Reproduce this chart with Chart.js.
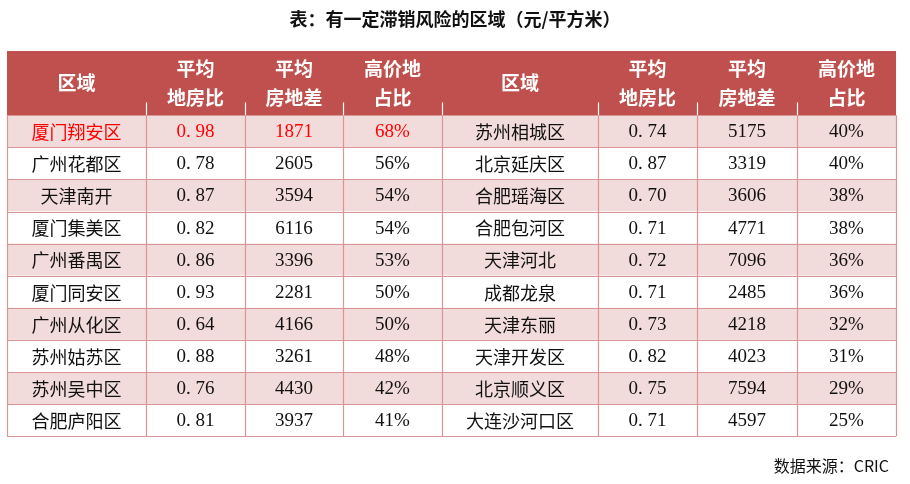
<!DOCTYPE html>
<html><head><meta charset="utf-8">
<script src="https://cdn.jsdelivr.net/npm/chart.js@4/dist/chart.umd.min.js"></script>
<style>body{margin:0;background:#fff}canvas{display:block}</style></head>
<body><canvas id="c" width="910" height="484"></canvas>
<script>
const headers = ["区域","平均\n地房比","平均\n房地差","高价地\n占比","区域","平均\n地房比","平均\n房地差","高价地\n占比"];
const leftRegions = ["厦门翔安区","广州花都区","天津南开","厦门集美区","广州番禺区","厦门同安区","广州从化区","苏州姑苏区","苏州吴中区","合肥庐阳区"];
const leftRatio = ["0.98","0.78","0.87","0.82","0.86","0.93","0.64","0.88","0.76","0.81"];
const leftDiff = [1871,2605,3594,6116,3396,2281,4166,3261,4430,3937];
const leftHigh = ["68%","56%","54%","54%","53%","50%","50%","48%","42%","41%"];
const rightRegions = ["苏州相城区","北京延庆区","合肥瑶海区","合肥包河区","天津河北","成都龙泉","天津东丽","天津开发区","北京顺义区","大连沙河口区"];
const rightRatio = ["0.74","0.87","0.70","0.71","0.72","0.71","0.73","0.82","0.75","0.71"];
const rightDiff = [5175,3319,3606,4771,7096,2485,4218,4023,7594,4597];
const rightHigh = ["40%","40%","38%","38%","36%","36%","32%","31%","29%","25%"];
const colEdges = [0,139,238,336,435,591,690,790,889];

const rows = leftRegions.map((r,i)=>[r,leftRatio[i],String(leftDiff[i]),leftHigh[i],rightRegions[i],rightRatio[i],String(rightDiff[i]),rightHigh[i]]);
const RH = 32.1;

const tablePlugin = {
  id:'table',
  afterDraw(chart){
    const ctx=chart.ctx, xs=chart.scales.x, ys=chart.scales.y;
    const X=v=>xs.getPixelForValue(v), Y=v=>ys.getPixelForValue(v);
    ctx.save();
    ctx.fillStyle='#c0504d';
    ctx.fillRect(X(0),Y(0),X(889)-X(0),Y(2)-Y(0));
    rows.forEach((r,i)=>{
      const y0=Y(2+i), y1=Y(3+i);
      ctx.fillStyle = i%2===0 ? '#f2dcdb' : '#ffffff';
      ctx.fillRect(X(0),y0,X(889)-X(0),y1-y0);
    });
    ctx.strokeStyle='#d99594'; ctx.lineWidth=1.2;
    for(let i=0;i<=10;i++){const y=Math.round(Y(2+i))+0.5;ctx.beginPath();ctx.moveTo(X(0),y);ctx.lineTo(X(889),y);ctx.stroke();}
    colEdges.forEach(e=>{const x=Math.round(X(e))+0.5;ctx.beginPath();ctx.moveTo(x,Y(2));ctx.lineTo(x,Y(12));ctx.stroke();});
    ctx.strokeStyle='#ffffff';
    colEdges.slice(1,-1).forEach(e=>{const x=Math.round(X(e))+0.5;ctx.beginPath();ctx.moveTo(x,Y(1.6));ctx.lineTo(x,Y(2));ctx.stroke();});
    ctx.textAlign='center'; ctx.textBaseline='middle'; ctx.fillStyle='#ffffff';
    ctx.font='bold 19px "Noto Sans CJK SC"';
    headers.forEach((h,j)=>{
      const cx=(X(colEdges[j])+X(colEdges[j+1]))/2;
      const lines=h.split('\n');
      if(lines.length===1) ctx.fillText(lines[0],cx,Y(1));
      else {ctx.fillText(lines[0],cx,Y(0.55));ctx.fillText(lines[1],cx,Y(1.45));}
    });
    rows.forEach((r,i)=>{
      const cy=(Y(2+i)+Y(3+i))/2+1;
      r.forEach((t,j)=>{
        const cx=(X(colEdges[j])+X(colEdges[j+1]))/2;
        ctx.fillStyle = (i===0 && j<4) ? '#ff0000' : '#111111';
        ctx.font = (j%4===0) ? '18px "Noto Sans CJK SC"' : '19px "Liberation Serif", "Noto Sans CJK SC"';
        ctx.fillText(j%4===1 ? t.replace('.', '. ') : t,cx,cy);
      });
    });
    ctx.restore();
  }
};

new Chart(document.getElementById('c'),{
  type:'scatter',
  data:{datasets:[]},
  options:{
    responsive:false, animation:false,
    layout:{padding:0},
    plugins:{legend:{display:false},tooltip:{enabled:false},title:{display:false}},
    scales:{
      x:{type:'linear',min:-7,max:903,display:false},
      y:{type:'linear',min:-51/RH,max:(484-51)/RH,reverse:true,display:false}
    }
  },
  plugins:[tablePlugin,{id:'texts',afterDraw(chart){
    const ctx=chart.ctx;ctx.save();ctx.fillStyle='#111';ctx.textBaseline='middle';
    ctx.textAlign='center';ctx.font='bold 18px "Noto Sans CJK SC"';
    ctx.fillText('表：有一定滞销风险的区域（元/平方米）',455,19);
    ctx.textAlign='right';ctx.font='16px "Noto Sans CJK SC"';
    ctx.fillText('数据来源：CRIC',889,466);
    ctx.restore();
  }}]
});
</script></body></html>
